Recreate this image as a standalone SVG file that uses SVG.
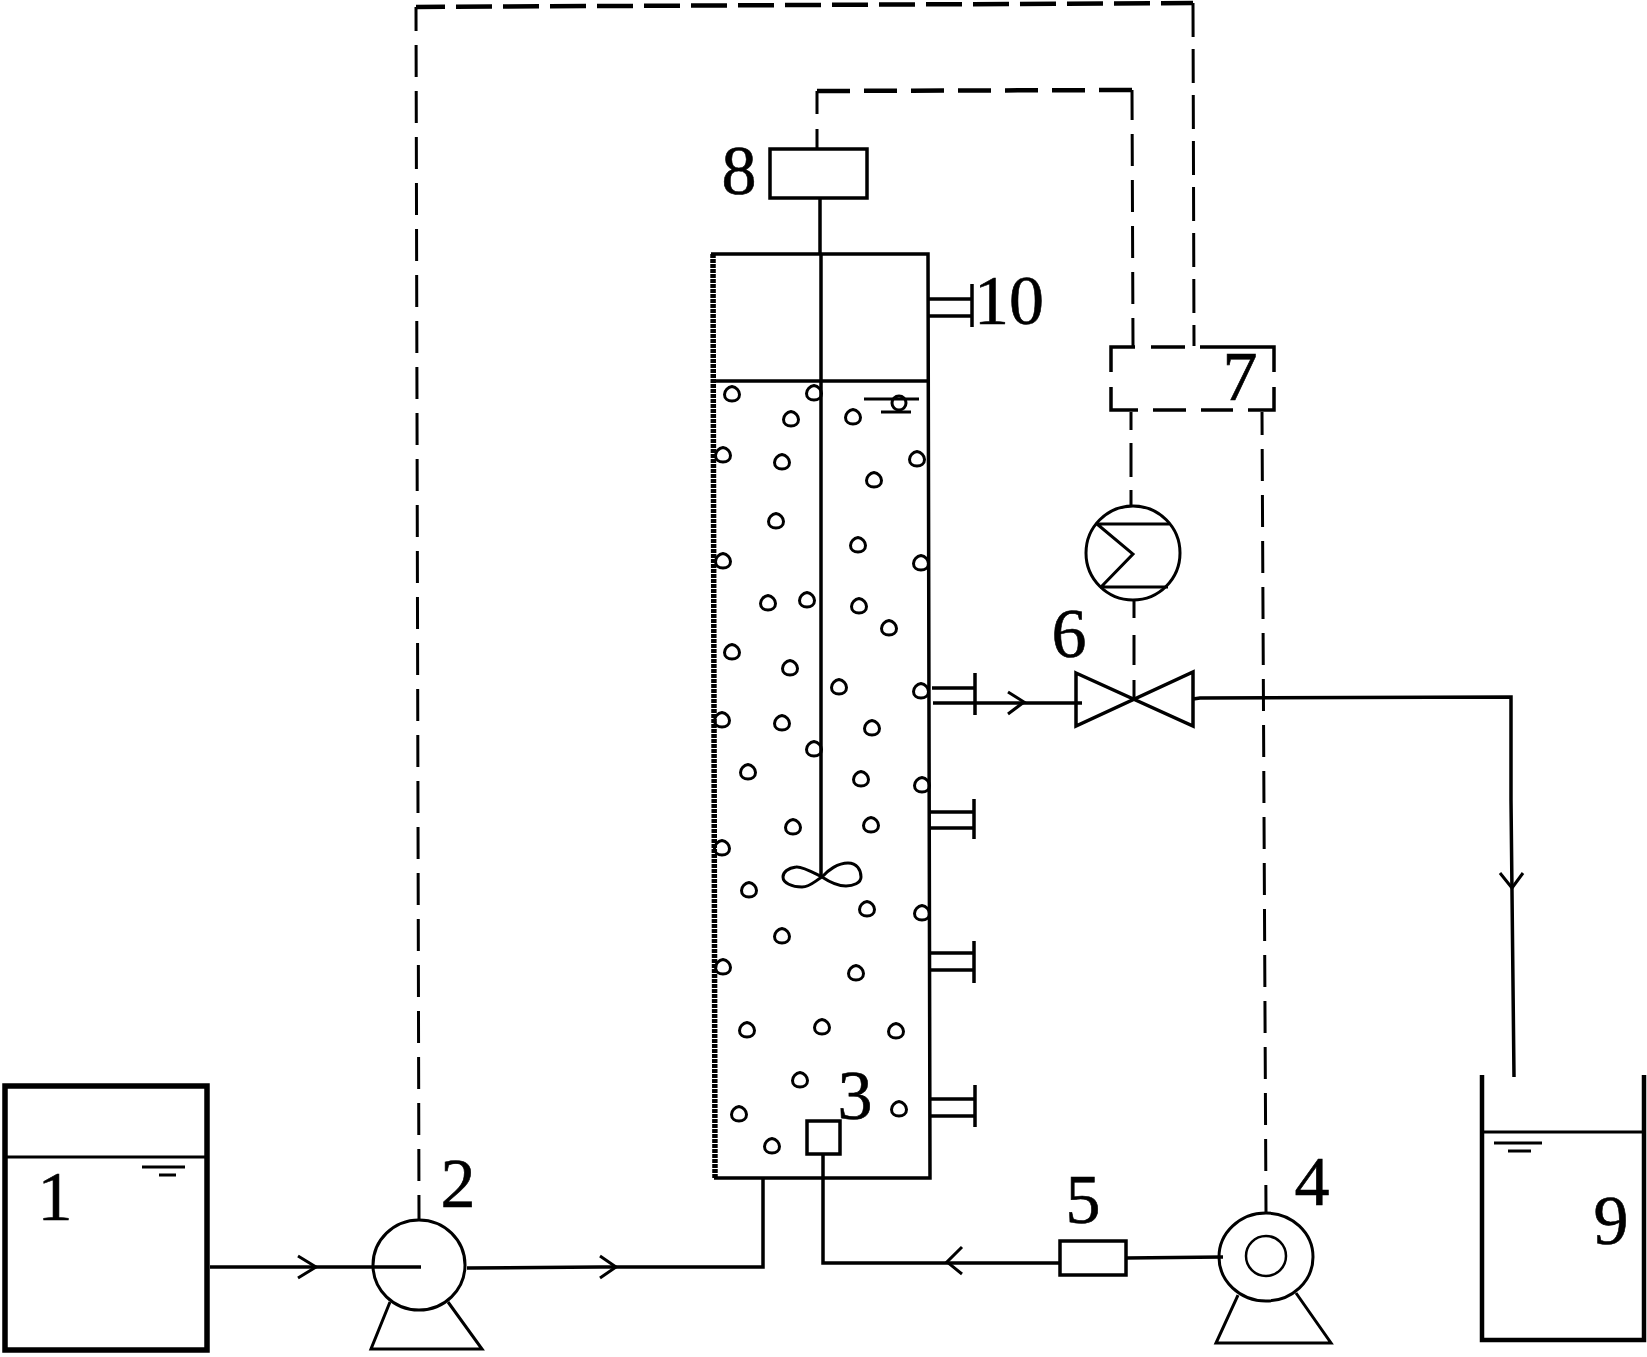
<svg xmlns="http://www.w3.org/2000/svg" width="1647" height="1357" viewBox="0 0 1647 1357">
<style>
.l{fill:none;stroke:#000;stroke-width:3}
.m{fill:none;stroke:#000;stroke-width:3.5}
.h{fill:none;stroke:#000;stroke-width:5.5}
.s{fill:none;stroke:#000;stroke-width:2.5}
.b{fill:none;stroke:#000;stroke-width:3}
.d{fill:none;stroke:#000;stroke-width:3;stroke-dasharray:32 14}
.dh{fill:none;stroke:#000;stroke-width:4.5}
.t{font-family:"Liberation Serif","Times New Roman",serif;font-size:70px;fill:#000;stroke:#000;stroke-width:.6;text-anchor:middle}
</style>
<defs>
<path id="bub" d="M0 -7.5 C4 -7 7.5 -3.5 7.5 0.5 C7.5 5 4 7 0 7 C-4 7 -7.5 5 -7.5 0.5 C-7.5 -3.5 -4 -7 0 -7.5Z"/>
</defs>
<rect width="1647" height="1357" fill="#fff"/>

<g id="connectors">
<path class="d" stroke-dashoffset="8" d="M416 7 L419 1220"/>
<path class="dh" style="stroke-dasharray:36 11" stroke-dashoffset="7" d="M416 7 L1193 3"/>
<path class="d" style="stroke-dasharray:34 12" d="M1193 3 L1194 346"/>
<path class="dh" style="stroke-dasharray:33 14" d="M817 91 L1132 90"/>
<path class="d" style="stroke-dasharray:23 15 18 0" d="M817 91 V148"/>
<path class="d" stroke-dashoffset="2" d="M1132 90 L1133 346"/>
<path class="l" d="M1131 412 V430 M1131 443 V477 M1131 490 V507"/>
<path class="l" d="M1134 600 V618 M1134 635 V665 M1134 680 V699"/>
<path class="d" stroke-dashoffset="9" d="M1262 412 L1266 1213"/>
<path class="m" d="M210 1267 H421"/>
<path class="l" d="M298 1256 L316 1267 L298 1278"/>
<path class="m" d="M467 1268 L600 1267 H763 V1178"/>
<path class="l" d="M600 1256 L616 1267 L600 1278"/>
<path class="m" d="M823 1154 V1263 H1060"/>
<path class="l" d="M962 1247 L947 1262 L962 1274"/>
<path class="m" d="M1126 1258 L1223 1257"/>
<path class="m" d="M933 703 H1082"/>
<path class="l" d="M1008 692 L1024 702 L1008 714"/>
<path class="m" d="M1193 699 L1200 698 L1511 697 V800 L1514 1077"/>
<path class="l" d="M1500 873 L1512 888 L1523 873"/>
<path class="m" d="M820 198 V254"/>
</g>

<g id="node-1">
<rect class="h" x="5" y="1086" width="202" height="264"/>
<path class="l" d="M5 1157 H207"/>
<path class="l" d="M142 1167 H185 M159 1175 H176"/>
<text class="t" x="55" y="1220">1</text>
</g>

<g id="node-2">
<ellipse class="l" cx="419" cy="1265" rx="46" ry="45"/>
<path class="l" d="M390 1302 L371 1349 H482 L448 1302"/>
<text class="t" x="458" y="1207">2</text>
</g>

<g id="node-3">
<path d="M713 254 L715 1178" fill="none" stroke="#000" stroke-width="5.5" stroke-dasharray="4 1"/>
<path class="m" d="M711 254 H928 L930 1178 H714"/>
<path class="m" d="M712 381 H928"/>
<path class="m" d="M821 254 V877"/>
<path class="b" d="M822 877 C812 872 802 866 796 867 C788 868 783 872 783 877 C783 883 792 887 802 887 C810 887 815 881 822 877 C828 870 838 863 848 863 C857 863 861 870 861 877 C861 883 853 886 846 886 C836 886 828 881 822 877Z"/>
<rect class="m" x="807" y="1121" width="33" height="33"/>
<g class="b">
<use href="#bub" x="732" y="394"/><use href="#bub" x="814" y="393"/><use href="#bub" x="791" y="419"/><use href="#bub" x="853" y="417"/>
<use href="#bub" x="723" y="455"/><use href="#bub" x="782" y="462"/><use href="#bub" x="917" y="459"/><use href="#bub" x="874" y="480"/>
<use href="#bub" x="776" y="521"/><use href="#bub" x="858" y="545"/><use href="#bub" x="723" y="561"/><use href="#bub" x="921" y="563"/>
<use href="#bub" x="768" y="603"/><use href="#bub" x="807" y="600"/><use href="#bub" x="859" y="606"/><use href="#bub" x="889" y="628"/>
<use href="#bub" x="732" y="652"/><use href="#bub" x="790" y="668"/><use href="#bub" x="839" y="687"/><use href="#bub" x="921" y="691"/>
<use href="#bub" x="722" y="720"/><use href="#bub" x="782" y="723"/><use href="#bub" x="872" y="728"/><use href="#bub" x="814" y="749"/>
<use href="#bub" x="748" y="772"/><use href="#bub" x="861" y="779"/><use href="#bub" x="922" y="785"/><use href="#bub" x="793" y="827"/>
<use href="#bub" x="871" y="825"/><use href="#bub" x="722" y="848"/><use href="#bub" x="749" y="890"/><use href="#bub" x="867" y="909"/>
<use href="#bub" x="922" y="913"/><use href="#bub" x="782" y="936"/><use href="#bub" x="723" y="967"/><use href="#bub" x="856" y="973"/>
<use href="#bub" x="747" y="1030"/><use href="#bub" x="822" y="1027"/><use href="#bub" x="896" y="1031"/><use href="#bub" x="800" y="1080"/>
<use href="#bub" x="739" y="1114"/><use href="#bub" x="899" y="1109"/><use href="#bub" x="772" y="1146"/>
</g>
<path class="l" d="M864 399 H919 M881 412 H911"/>
<circle class="b" cx="899" cy="403" r="7"/>
<path class="m" d="M929 299 H972 M929 316 H972 M972 284 V327"/>
<path class="m" d="M932 688 H975 M975 673 V715"/>
<path class="m" d="M930 812 H974 M930 828 H974 M974 799 V839"/>
<path class="m" d="M930 953 H974 M930 970 H974 M974 941 V983"/>
<path class="m" d="M931 1099 H975 M931 1116 H975 M975 1085 V1127"/>
<text class="t" x="855" y="1119">3</text>
<text class="t" x="1009" y="324">10</text>
</g>

<g id="node-4">
<ellipse class="l" cx="1266" cy="1257" rx="47" ry="44"/>
<circle class="s" cx="1266" cy="1256" r="20"/>
<path class="l" d="M1238 1295 L1216 1343 H1331 L1296 1293"/>
<text class="t" x="1312" y="1205">4</text>
</g>

<g id="node-5">
<rect class="m" x="1060" y="1241" width="66" height="34"/>
<text class="t" x="1083" y="1223">5</text>
</g>

<g id="node-6">
<path class="m" d="M1076 673 L1193 726 V672 L1076 726Z"/>
<circle class="l" cx="1133" cy="553" r="47"/>
<path class="l" d="M1097 524 H1169 M1100 587 H1168 M1097 524 L1133 554 L1101 587"/>
<text class="t" x="1069" y="657">6</text>
</g>

<g id="node-7">
<path class="m" d="M1111 372 V347 H1135 M1151 347 H1185 M1200 347 H1274 V372 M1274 387 V410 H1248 M1233 410 H1201 M1186 410 H1153 M1138 410 H1111 V387"/>
<text class="t" x="1240" y="400">7</text>
</g>

<g id="node-8">
<rect class="m" x="770" y="149" width="97" height="49"/>
<text class="t" x="739" y="194">8</text>
</g>

<g id="node-9">
<path class="m" d="M1482 1075 V1340 H1644 V1075" style="stroke-width:4.5"/>
<path class="l" d="M1482 1132 H1644"/>
<path class="l" d="M1494 1143 H1542 M1508 1151 H1531"/>
<text class="t" x="1611" y="1244">9</text>
</g>
</svg>
